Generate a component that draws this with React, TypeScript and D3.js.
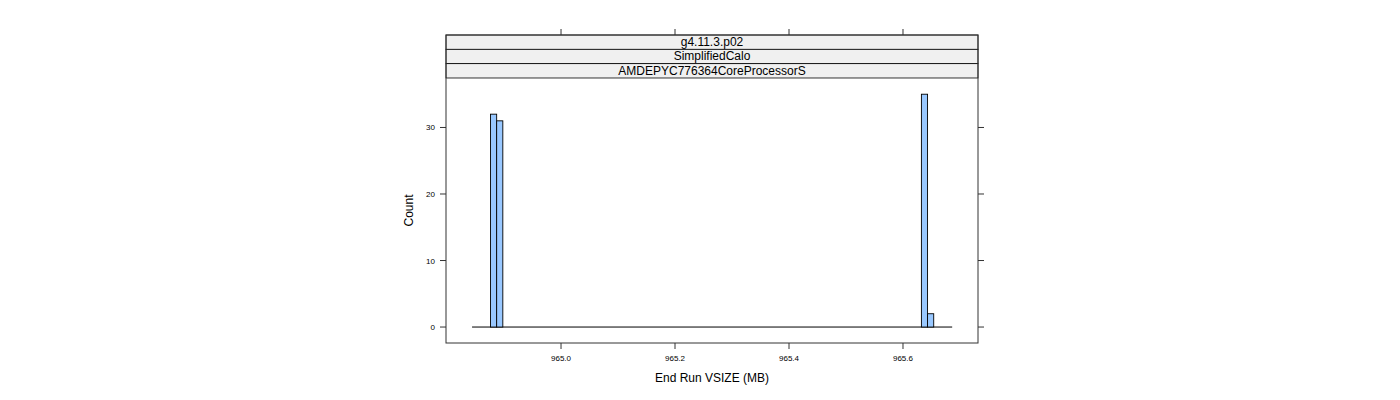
import { useRef, useEffect } from 'react';
import * as d3 from 'd3';

// histogram bins (equal width), counts per bin
const binStart = 964.8439;
const binWidth = 0.0108;
const binCounts = [
    0, 0, 0, 32, 31, 0, 0, 0, 0, 0,
    0, 0, 0, 0, 0, 0, 0, 0, 0, 0,
    0, 0, 0, 0, 0, 0, 0, 0, 0, 0,
    0, 0, 0, 0, 0, 0, 0, 0, 0, 0,
    0, 0, 0, 0, 0, 0, 0, 0, 0, 0,
    0, 0, 0, 0, 0, 0, 0, 0, 0, 0,
    0, 0, 0, 0, 0, 0, 0, 0, 0, 0,
    0, 0, 0, 35, 2, 0, 0, 0,
];

const xDomain = [964.7982, 965.7316];
const yDomain = [-2.4, 37.44];
const xTicks = [965.0, 965.2, 965.4, 965.6];
const yTicks = [0, 10, 20, 30];
const stripLabels = ['g4.11.3.p02', 'SimplifiedCalo', 'AMDEPYC776364CoreProcessorS'];

export default function App() {
    const svgRef = useRef<SVGSVGElement>(null);

    useEffect(() => {
        if (!svgRef.current) return;
        const width = 1400;
        const height = 400;

        d3.select(svgRef.current).selectAll('*').remove();
        const svg = d3.select(svgRef.current)
            .attr('width', width)
            .attr('height', height)
            .style('font-family', '"Liberation Sans", Arial, sans-serif');

        const left = 446, right = 978;
        const stripTop = 35, stripH = 14.33;
        const panelTop = stripTop + stripH * stripLabels.length;
        const panelBottom = 343;

        const x = d3.scaleLinear().domain(xDomain).range([left, right]);
        const y = d3.scaleLinear().domain(yDomain).range([panelBottom, panelTop]);

        const axisCol = '#333';

        const bins = binCounts.map((c, i) => ({
            x0: binStart + i * binWidth,
            x1: binStart + (i + 1) * binWidth,
            count: c,
        }));

        // zero-height bins show up as a baseline
        svg.append('line')
            .attr('x1', x(bins[0].x0))
            .attr('x2', x(bins[bins.length - 1].x1))
            .attr('y1', y(0)).attr('y2', y(0))
            .attr('stroke', '#000')
            .attr('stroke-width', 1);

        svg.append('g')
            .selectAll('rect')
            .data(bins.filter(d => d.count > 0))
            .enter()
            .append('rect')
            .attr('x', d => x(d.x0))
            .attr('width', d => x(d.x1) - x(d.x0))
            .attr('y', d => y(d.count))
            .attr('height', d => y(0) - y(d.count))
            .attr('fill', '#99C8FF')
            .attr('stroke', '#000')
            .attr('stroke-width', 0.9);

        // strips
        stripLabels.forEach((s, i) => {
            const sy = stripTop + i * stripH;
            svg.append('rect')
                .attr('x', left)
                .attr('y', sy)
                .attr('width', right - left)
                .attr('height', stripH)
                .attr('fill', '#F0F0F0')
                .attr('stroke', '#000')
                .attr('stroke-width', 0.8);
            svg.append('text')
                .attr('x', (left + right) / 2)
                .attr('y', sy + stripH / 2 + 4)
                .attr('text-anchor', 'middle')
                .attr('fill', '#000')
                .style('font-size', '12px')
                .text(s);
        });

        // panel frame
        svg.append('rect')
            .attr('x', left)
            .attr('y', stripTop)
            .attr('width', right - left)
            .attr('height', panelBottom - stripTop)
            .attr('fill', 'none')
            .attr('stroke', axisCol)
            .attr('stroke-width', 1);

        const tickLen = 6;

        // bottom / top ticks
        xTicks.forEach(t => {
            svg.append('line')
                .attr('x1', x(t)).attr('x2', x(t))
                .attr('y1', panelBottom).attr('y2', panelBottom + tickLen)
                .attr('stroke', axisCol);
            svg.append('line')
                .attr('x1', x(t)).attr('x2', x(t))
                .attr('y1', stripTop).attr('y2', stripTop - tickLen)
                .attr('stroke', axisCol);
            svg.append('text')
                .attr('x', x(t))
                .attr('y', panelBottom + tickLen + 12)
                .attr('text-anchor', 'middle')
                .attr('fill', '#000')
                .style('font-size', '8px')
                .text(t.toFixed(1));
        });

        // left / right ticks
        yTicks.forEach(t => {
            svg.append('line')
                .attr('x1', left - tickLen).attr('x2', left)
                .attr('y1', y(t)).attr('y2', y(t))
                .attr('stroke', axisCol);
            svg.append('line')
                .attr('x1', right).attr('x2', right + tickLen)
                .attr('y1', y(t)).attr('y2', y(t))
                .attr('stroke', axisCol);
            svg.append('text')
                .attr('x', left - tickLen - 5)
                .attr('y', y(t) + 3)
                .attr('text-anchor', 'end')
                .attr('fill', '#000')
                .style('font-size', '8px')
                .text(String(t));
        });

        // axis titles
        svg.append('text')
            .attr('x', (left + right) / 2)
            .attr('y', 382)
            .attr('text-anchor', 'middle')
            .attr('fill', '#000')
            .style('font-size', '12px')
            .text('End Run VSIZE (MB)');

        svg.append('text')
            .attr('transform', `translate(413, ${(panelTop + panelBottom) / 2}) rotate(-90)`)
            .attr('text-anchor', 'middle')
            .attr('fill', '#000')
            .style('font-size', '12px')
            .text('Count');
    }, []);

    return (
        <div style={{ position: 'absolute', left: 0, top: 0 }}>
            <svg ref={svgRef}></svg>
        </div>
    );
}
